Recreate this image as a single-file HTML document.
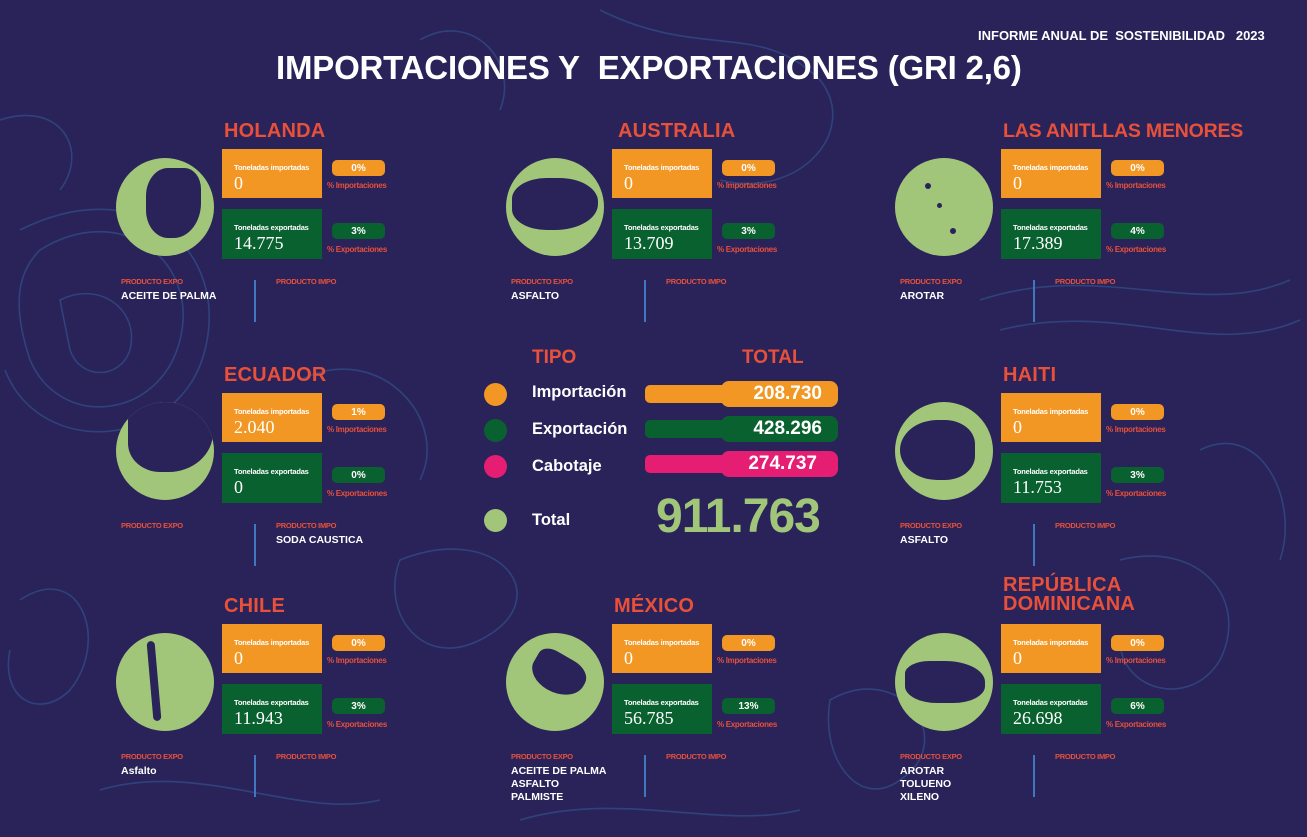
<!DOCTYPE html>
<html><head><meta charset="utf-8"><style>
*{margin:0;padding:0;box-sizing:border-box}
body{width:1307px;height:837px;overflow:hidden;background:#29235a;font-family:"Liberation Sans",sans-serif;position:relative;color:#fff}
.a{position:absolute;white-space:nowrap}
.bg{position:absolute;left:0;top:0}
.card{position:absolute;width:1px;height:1px}
.card *{white-space:nowrap}
.t{position:absolute;left:2px;top:-29px;color:#e8503a;font-weight:bold;font-size:20px;letter-spacing:0.2px}
.g{position:absolute;left:-106px;top:9px;width:98px;height:98px;border-radius:50%;background:#a2c679;overflow:hidden}
.bx{position:absolute;left:0;width:100px;height:49px;padding:14px 0 0 12px}
.bx .l{font-size:7.5px;font-weight:bold;letter-spacing:-0.2px;display:block}
.bx .v{font-size:18px;display:block;margin-top:1px;font-family:"Liberation Serif",serif}
.o{top:0;background:#f29724}
.gr{top:60px;height:50px;background:#0a6130}
.p{position:absolute;left:110px;width:53px;height:16px;border-radius:5px;font-size:10px;font-weight:bold;text-align:center;line-height:17px}
.pl{position:absolute;left:105px;font-size:8px;color:#e8503a;font-weight:bold;letter-spacing:-0.3px}
.pe{position:absolute;left:-101px;top:128px;font-size:7.5px;color:#e8503a;font-weight:bold;letter-spacing:-0.3px}
.pi{position:absolute;left:54px;top:128px;font-size:7.5px;color:#e8503a;font-weight:bold;letter-spacing:-0.3px}
.pt{position:absolute;top:141px;font-size:10.5px;line-height:13px;font-weight:bold;color:#fff}
.dv{position:absolute;left:32px;top:131px;width:2px;height:42px;background:#3f78c0}
.land{position:absolute;background:#29235a}
</style></head><body>
<svg class="bg" width="1307" height="837" fill="none" stroke="#34508a" stroke-width="1.6" opacity="0.7">
<path d="M40 250 C120 200 200 260 180 340 C160 420 60 430 30 360 C10 300 20 270 40 250Z"/>
<path d="M20 230 C140 170 230 250 205 350 C180 450 40 460 5 370"/>
<path d="M60 300 C100 280 140 310 130 350 C120 380 80 380 70 350Z"/>
<path d="M600 10 C700 60 760 20 820 80 C860 130 800 200 720 180"/>
<path d="M980 300 C1100 260 1200 320 1290 280"/>
<path d="M1000 330 C1120 300 1210 360 1300 320"/>
<path d="M400 560 C500 520 560 600 480 640 C420 670 380 610 400 560Z"/>
<path d="M20 600 C80 560 110 640 70 690 C40 720 0 700 10 650"/>
<path d="M830 700 C900 660 960 740 900 780 C860 810 820 760 830 700Z"/>
<path d="M300 380 C380 340 450 420 420 480"/>
<path d="M1200 450 C1260 420 1300 500 1280 560"/>
<path d="M420 40 C470 10 520 60 500 110"/>
<path d="M0 120 C60 100 90 150 60 190"/>
<path d="M1120 560 C1200 540 1250 600 1220 660 C1190 710 1120 690 1120 640"/>
<path d="M100 790 C200 760 300 820 380 800"/>
<path d="M520 820 C620 790 720 830 800 810"/>
</svg>

<div class="a" style="left:978px;top:28px;font-size:13px;font-weight:bold;letter-spacing:0px">INFORME ANUAL DE&nbsp; SOSTENIBILIDAD&nbsp;&nbsp; 2023</div>
<div class="a" style="left:276px;top:49px;font-size:33px;font-weight:bold;letter-spacing:-0.2px">IMPORTACIONES Y&nbsp; EXPORTACIONES (GRI 2,6)</div>

<!-- HOLANDA -->
<div class="card" style="left:222px;top:149px">
<div class="t">HOLANDA</div>
<div class="g"><div class="land" style="left:30px;top:10px;width:55px;height:70px;border-radius:40% 30% 50% 40%"></div></div>
<div class="bx o"><span class="l">Toneladas importadas</span><span class="v">0</span></div>
<div class="p" style="top:11px;background:#f29724">0%</div><div class="pl" style="top:32px">% Importaciones</div>
<div class="bx gr"><span class="l">Toneladas exportadas</span><span class="v">14.775</span></div>
<div class="p" style="top:74px;background:#0a6130">3%</div><div class="pl" style="top:96px">% Exportaciones</div>
<div class="pe">PRODUCTO EXPO</div><div class="pi">PRODUCTO IMPO</div><div class="dv"></div>
<div class="pt" style="left:-101px">ACEITE DE PALMA</div>
</div>

<!-- AUSTRALIA -->
<div class="card" style="left:612px;top:149px">
<div class="t" style="left:6px">AUSTRALIA</div>
<div class="g"><div class="land" style="left:6px;top:20px;width:86px;height:52px;border-radius:40% 45% 50% 40%"></div></div>
<div class="bx o"><span class="l">Toneladas importadas</span><span class="v">0</span></div>
<div class="p" style="top:11px;background:#f29724">0%</div><div class="pl" style="top:32px">% Importaciones</div>
<div class="bx gr"><span class="l">Toneladas exportadas</span><span class="v">13.709</span></div>
<div class="p" style="top:74px;background:#0a6130">3%</div><div class="pl" style="top:96px">% Exportaciones</div>
<div class="pe">PRODUCTO EXPO</div><div class="pi">PRODUCTO IMPO</div><div class="dv"></div>
<div class="pt" style="left:-101px">ASFALTO</div>
</div>

<!-- ANTILLAS -->
<div class="card" style="left:1001px;top:149px">
<div class="t" style="font-size:19.5px;letter-spacing:-0.2px">LAS ANITLLAS MENORES</div>
<div class="g"><div class="land" style="left:30px;top:25px;width:6px;height:6px;border-radius:50%"></div><div class="land" style="left:42px;top:45px;width:5px;height:5px;border-radius:50%"></div><div class="land" style="left:55px;top:70px;width:6px;height:6px;border-radius:50%"></div></div>
<div class="bx o"><span class="l">Toneladas importadas</span><span class="v">0</span></div>
<div class="p" style="top:11px;background:#f29724">0%</div><div class="pl" style="top:32px">% Importaciones</div>
<div class="bx gr"><span class="l">Toneladas exportadas</span><span class="v">17.389</span></div>
<div class="p" style="top:74px;background:#0a6130">4%</div><div class="pl" style="top:96px">% Exportaciones</div>
<div class="pe">PRODUCTO EXPO</div><div class="pi">PRODUCTO IMPO</div><div class="dv"></div>
<div class="pt" style="left:-101px">AROTAR</div>
</div>

<!-- ECUADOR -->
<div class="card" style="left:222px;top:393px">
<div class="t">ECUADOR</div>
<div class="g"><div class="land" style="left:12px;top:-5px;width:85px;height:75px;border-radius:30% 50% 55% 40%"></div></div>
<div class="bx o"><span class="l">Toneladas importadas</span><span class="v">2.040</span></div>
<div class="p" style="top:11px;background:#f29724">1%</div><div class="pl" style="top:32px">% Importaciones</div>
<div class="bx gr"><span class="l">Toneladas exportadas</span><span class="v">0</span></div>
<div class="p" style="top:74px;background:#0a6130">0%</div><div class="pl" style="top:96px">% Exportaciones</div>
<div class="pe">PRODUCTO EXPO</div><div class="pi">PRODUCTO IMPO</div><div class="dv"></div>
<div class="pt" style="left:54px">SODA CAUSTICA</div>
</div>

<!-- HAITI -->
<div class="card" style="left:1001px;top:393px">
<div class="t">HAITI</div>
<div class="g"><div class="land" style="left:5px;top:18px;width:75px;height:60px;border-radius:50% 40% 40% 50%"></div></div>
<div class="bx o"><span class="l">Toneladas importadas</span><span class="v">0</span></div>
<div class="p" style="top:11px;background:#f29724">0%</div><div class="pl" style="top:32px">% Importaciones</div>
<div class="bx gr"><span class="l">Toneladas exportadas</span><span class="v">11.753</span></div>
<div class="p" style="top:74px;background:#0a6130">3%</div><div class="pl" style="top:96px">% Exportaciones</div>
<div class="pe">PRODUCTO EXPO</div><div class="pi">PRODUCTO IMPO</div><div class="dv"></div>
<div class="pt" style="left:-101px">ASFALTO</div>
</div>

<!-- CHILE -->
<div class="card" style="left:222px;top:624px">
<div class="t">CHILE</div>
<div class="g"><div class="land" style="left:34px;top:8px;width:8px;height:80px;border-radius:4px;transform:rotate(-5deg)"></div></div>
<div class="bx o"><span class="l">Toneladas importadas</span><span class="v">0</span></div>
<div class="p" style="top:11px;background:#f29724">0%</div><div class="pl" style="top:32px">% Importaciones</div>
<div class="bx gr"><span class="l">Toneladas exportadas</span><span class="v">11.943</span></div>
<div class="p" style="top:74px;background:#0a6130">3%</div><div class="pl" style="top:96px">% Exportaciones</div>
<div class="pe">PRODUCTO EXPO</div><div class="pi">PRODUCTO IMPO</div><div class="dv"></div>
<div class="pt" style="left:-101px">Asfalto</div>
</div>

<!-- MEXICO -->
<div class="card" style="left:612px;top:624px">
<div class="t" style="left:2px">MÉXICO</div>
<div class="g"><div class="land" style="left:25px;top:22px;width:55px;height:38px;border-radius:30% 40% 60% 50%;transform:rotate(30deg)"></div></div>
<div class="bx o"><span class="l">Toneladas importadas</span><span class="v">0</span></div>
<div class="p" style="top:11px;background:#f29724">0%</div><div class="pl" style="top:32px">% Importaciones</div>
<div class="bx gr"><span class="l">Toneladas exportadas</span><span class="v">56.785</span></div>
<div class="p" style="top:74px;background:#0a6130">13%</div><div class="pl" style="top:96px">% Exportaciones</div>
<div class="pe">PRODUCTO EXPO</div><div class="pi">PRODUCTO IMPO</div><div class="dv"></div>
<div class="pt" style="left:-101px">ACEITE DE PALMA<br>ASFALTO<br>PALMISTE</div>
</div>

<!-- RD -->
<div class="card" style="left:1001px;top:624px">
<div class="t" style="top:-48px;line-height:19px">REPÚBLICA<br>DOMINICANA</div>
<div class="g"><div class="land" style="left:10px;top:28px;width:80px;height:42px;border-radius:30% 50% 40% 40%"></div></div>
<div class="bx o"><span class="l">Toneladas importadas</span><span class="v">0</span></div>
<div class="p" style="top:11px;background:#f29724">0%</div><div class="pl" style="top:32px">% Importaciones</div>
<div class="bx gr"><span class="l">Toneladas exportadas</span><span class="v">26.698</span></div>
<div class="p" style="top:74px;background:#0a6130">6%</div><div class="pl" style="top:96px">% Exportaciones</div>
<div class="pe">PRODUCTO EXPO</div><div class="pi">PRODUCTO IMPO</div><div class="dv"></div>
<div class="pt" style="left:-101px">AROTAR<br>TOLUENO<br>XILENO</div>
</div>

<!-- CENTER -->
<div class="a" style="left:532px;top:347px;font-size:19px;font-weight:bold;color:#e8503a">TIPO</div>
<div class="a" style="left:742px;top:347px;font-size:19px;font-weight:bold;color:#e8503a">TOTAL</div>

<div class="a" style="left:484px;top:383px;width:23px;height:23px;border-radius:50%;background:#f29724"></div>
<div class="a" style="left:484px;top:419px;width:23px;height:23px;border-radius:50%;background:#0a6130"></div>
<div class="a" style="left:484px;top:455px;width:23px;height:23px;border-radius:50%;background:#e51d73"></div>
<div class="a" style="left:484px;top:509px;width:23px;height:23px;border-radius:50%;background:#a2c679"></div>

<div class="a" style="left:532px;top:383px;font-size:16.5px;font-weight:bold">Importación</div>
<div class="a" style="left:532px;top:420px;font-size:16.5px;font-weight:bold">Exportación</div>
<div class="a" style="left:532px;top:457px;font-size:16.5px;font-weight:bold">Cabotaje</div>
<div class="a" style="left:532px;top:511px;font-size:16.5px;font-weight:bold">Total</div>

<div class="a" style="left:645px;top:385px;width:193px;height:18px;border-radius:5px;background:#f29724"></div>
<div class="a" style="left:721px;top:381px;width:117px;height:26px;border-radius:8px;background:#f29724"></div>
<div class="a" style="left:645px;top:420px;width:193px;height:18px;border-radius:5px;background:#0a6130"></div>
<div class="a" style="left:721px;top:416px;width:117px;height:26px;border-radius:8px;background:#0a6130"></div>
<div class="a" style="left:645px;top:455px;width:193px;height:18px;border-radius:5px;background:#e51d73"></div>
<div class="a" style="left:721px;top:451px;width:117px;height:26px;border-radius:8px;background:#e51d73"></div>

<div class="a" style="left:700px;top:383px;width:122px;text-align:right;font-size:19px;font-weight:bold">208.730</div>
<div class="a" style="left:700px;top:418px;width:122px;text-align:right;font-size:19px;font-weight:bold">428.296</div>
<div class="a" style="left:700px;top:453px;width:117px;text-align:right;font-size:19px;font-weight:bold">274.737</div>

<div class="a" style="left:656px;top:489px;font-size:48px;font-weight:bold;color:#a2c679;letter-spacing:-1px">911.763</div>
</body></html>
